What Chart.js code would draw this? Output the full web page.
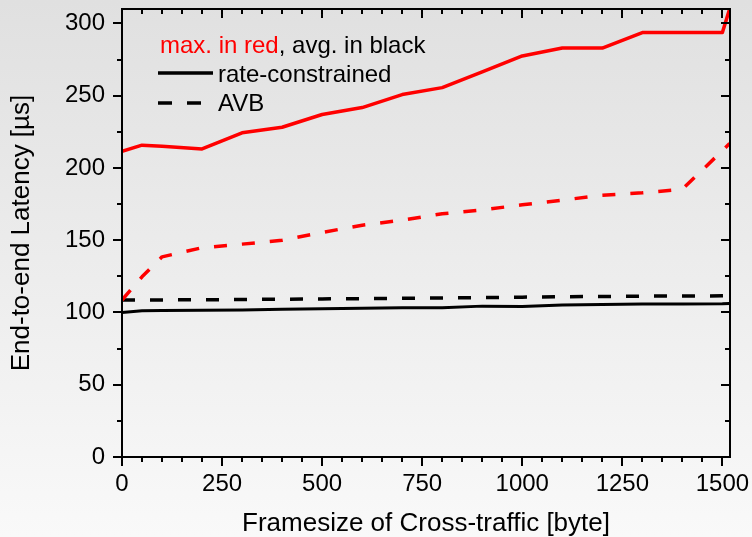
<!DOCTYPE html>
<html>
<head>
<meta charset="utf-8">
<script src="https://cdn.jsdelivr.net/npm/chart.js@4.4.0/dist/chart.umd.min.js"></script>
<style>
  html, body { margin: 0; padding: 0; }
  body { width: 752px; height: 537px; overflow: hidden;
         background: linear-gradient(to bottom, #e0e0e0 0%, #f9f9f9 100%); }
  canvas { display: block; }
</style>
</head>
<body>
<canvas id="c" width="752" height="537"></canvas>
<script>
// ---- data ----
const frameSizes = [0, 50, 100, 200, 300, 400, 500, 600, 700, 800, 900, 1000, 1100, 1200, 1300, 1400, 1500, 1518];
const maxRateConstrained = [211.5, 215.8, 215.0, 213.2, 224.3, 228.2, 237.0, 241.8, 250.8, 255.6, 266.5, 277.5, 283.0, 283.0, 293.7, 293.7, 293.7, 310.0];
const maxAVB = [108.6, 124.7, 138.5, 144.8, 147.3, 150.0, 155.4, 160.4, 163.9, 168.3, 171.0, 174.5, 177.7, 181.2, 182.8, 185.3, 212.0, 217.0];
const avgRateConstrained = [99.9, 101.2, 101.3, 101.5, 101.8, 102.2, 102.5, 103.0, 103.3, 103.2, 104.4, 104.1, 105.2, 105.6, 105.8, 105.8, 106.0, 106.3];
const avgAVB = [108.6, 108.6, 108.7, 108.8, 109.0, 109.2, 109.4, 109.6, 109.8, 110.0, 110.3, 110.6, 110.9, 111.1, 111.3, 111.4, 111.5, 111.6];
const xTickLabels = [0, 250, 500, 750, 1000, 1250, 1500];
const yTickLabels = [0, 50, 100, 150, 200, 250, 300];
const xTitle = 'Framesize of Cross-traffic [byte]';
const yTitle = 'End-to-end Latency [µs]';
const legendHeader = ['max. in red', ', avg. in black'];
const legendItems = ['rate-constrained', 'AVB'];

const FONT = '"Liberation Sans", Arial, sans-serif';
const RED = '#ff0000';
const BLACK = '#000000';

const pts = ys => frameSizes.map((x, i) => ({x: x, y: ys[i]}));

const frameTicks = {
  id: 'frameTicks',
  afterDatasetsDraw(chart) {
    const {ctx, chartArea: a, scales: {x, y}} = chart;
    ctx.save();
    ctx.strokeStyle = BLACK;
    ctx.lineWidth = 2;
    ctx.lineCap = 'butt';
    ctx.strokeRect(a.left, a.top, a.right - a.left, a.bottom - a.top);
    ctx.beginPath();
    for (let v = 0; v <= 1500; v += 50) {
      const px = Math.round(x.getPixelForValue(v));
      const len = (v % 250 === 0) ? 9 : 5;
      ctx.moveTo(px, a.bottom); ctx.lineTo(px, a.bottom + len);
      ctx.moveTo(px, a.top); ctx.lineTo(px, a.top + len);
    }
    for (let v = 0; v <= 300; v += 25) {
      const py = Math.round(y.getPixelForValue(v));
      const len = (v % 50 === 0) ? 9 : 5;
      ctx.moveTo(a.left, py); ctx.lineTo(a.left - len, py);
      ctx.moveTo(a.right, py); ctx.lineTo(a.right - len, py);
    }
    ctx.stroke();

    // legend
    ctx.font = '24px ' + FONT;
    ctx.textBaseline = 'alphabetic';
    ctx.textAlign = 'left';
    ctx.fillStyle = RED;
    ctx.fillText(legendHeader[0], 160, 53);
    const w = ctx.measureText(legendHeader[0]).width;
    ctx.fillStyle = BLACK;
    ctx.fillText(legendHeader[1], 160 + w, 53);

    ctx.lineWidth = 3.5;
    ctx.beginPath();
    ctx.moveTo(158, 73); ctx.lineTo(213, 73);
    ctx.stroke();
    ctx.fillText(legendItems[0], 218, 82);

    ctx.setLineDash([14, 15]);
    ctx.beginPath();
    ctx.moveTo(158, 103); ctx.lineTo(202, 103);
    ctx.stroke();
    ctx.setLineDash([]);
    ctx.fillText(legendItems[1], 218, 111);
    ctx.restore();
  }
};

new Chart(document.getElementById('c'), {
  type: 'line',
  data: {
    datasets: [
      { label: 'max rate-constrained', data: pts(maxRateConstrained), borderColor: RED, borderWidth: 3.5 },
      { label: 'max AVB', data: pts(maxAVB), borderColor: RED, borderWidth: 3.5, borderDash: [13, 15] },
      { label: 'avg rate-constrained', data: pts(avgRateConstrained), borderColor: BLACK, borderWidth: 3 },
      { label: 'avg AVB', data: pts(avgAVB), borderColor: BLACK, borderWidth: 3.5, borderDash: [13, 15] }
    ]
  },
  options: {
    responsive: false,
    animation: false,
    devicePixelRatio: 1,
    layout: { padding: { top: 9, right: 22, left: 0, bottom: 0 } },
    elements: {
      point: { radius: 0, hoverRadius: 0 },
      line: { tension: 0, fill: false, borderJoinStyle: 'round', borderCapStyle: 'butt' }
    },
    plugins: { legend: { display: false }, tooltip: { enabled: false } },
    events: [],
    scales: {
      x: {
        type: 'linear', min: 0, max: 1519,
        grid: { display: false, drawTicks: false },
        border: { display: false },
        afterBuildTicks: s => { s.ticks = xTickLabels.map(v => ({value: v})); },
        ticks: {
          autoSkip: false, padding: 13, maxRotation: 0, minRotation: 0,
          color: BLACK, font: { family: FONT, size: 24 },
          callback: v => String(v)
        },
        title: { display: true, text: xTitle, color: BLACK,
                 font: { family: FONT, size: 26, lineHeight: 1 }, padding: { top: 0, bottom: 0 } },
        afterFit: s => { s.height = 80; s.paddingLeft = 0; s.paddingRight = 0; }
      },
      y: {
        type: 'linear', min: 0, max: 310,
        grid: { display: false, drawTicks: false },
        border: { display: false },
        afterBuildTicks: s => { s.ticks = yTickLabels.map(v => ({value: v})); },
        ticks: {
          autoSkip: false, padding: 17,
          color: BLACK, font: { family: FONT, size: 24 },
          callback: v => String(v)
        },
        title: { display: true, text: yTitle, color: BLACK,
                 font: { family: FONT, size: 26, lineHeight: 1 }, padding: { top: 9, bottom: 0 } },
        afterFit: s => { s.width = 122; s.paddingTop = 0; s.paddingBottom = 0; }
      }
    }
  },
  plugins: [frameTicks]
});
</script>
</body>
</html>
